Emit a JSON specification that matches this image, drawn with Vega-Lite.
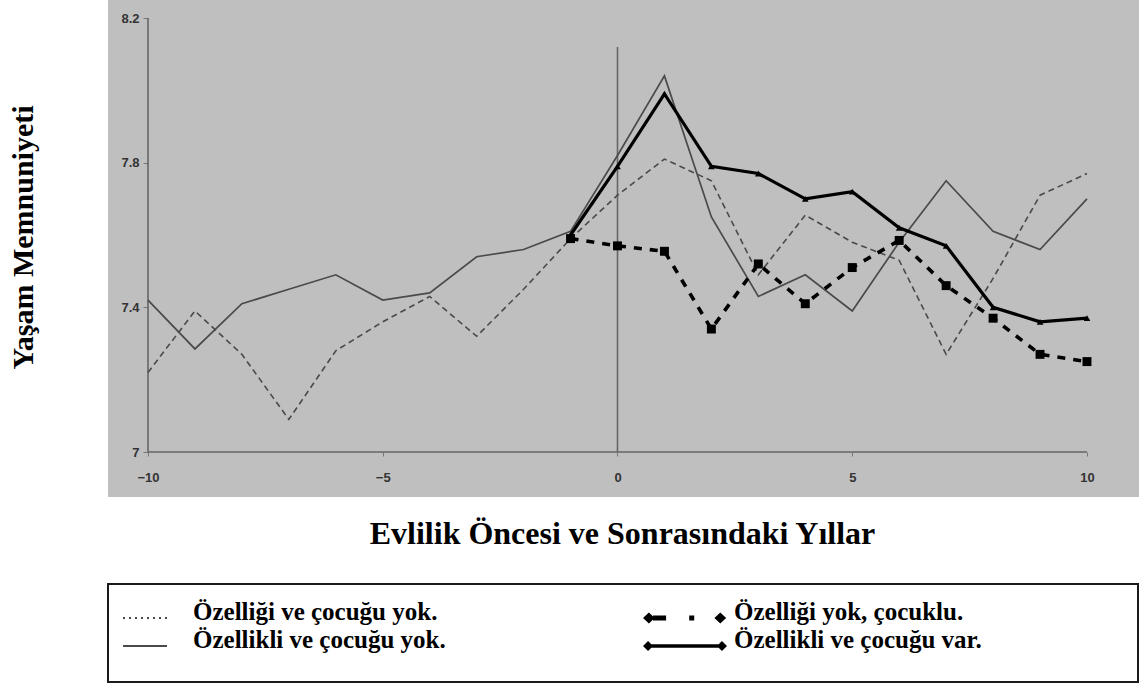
{
  "$schema": "https://vega.github.io/schema/vega-lite/v6.json",
  "background": "white",
  "padding": {"left": 8, "top": 0, "right": 0, "bottom": 0},
  "datasets": {
    "satisfaction": [
      {"s": "Özelliği ve çocuğu yok.", "x": -10, "y": 7.22},
      {"s": "Özelliği ve çocuğu yok.", "x": -9, "y": 7.39},
      {"s": "Özelliği ve çocuğu yok.", "x": -8, "y": 7.27},
      {"s": "Özelliği ve çocuğu yok.", "x": -7, "y": 7.09},
      {"s": "Özelliği ve çocuğu yok.", "x": -6, "y": 7.28},
      {"s": "Özelliği ve çocuğu yok.", "x": -5, "y": 7.36},
      {"s": "Özelliği ve çocuğu yok.", "x": -4, "y": 7.43},
      {"s": "Özelliği ve çocuğu yok.", "x": -3, "y": 7.32},
      {"s": "Özelliği ve çocuğu yok.", "x": -2, "y": 7.45},
      {"s": "Özelliği ve çocuğu yok.", "x": -1, "y": 7.59},
      {"s": "Özelliği ve çocuğu yok.", "x": 0, "y": 7.71},
      {"s": "Özelliği ve çocuğu yok.", "x": 1, "y": 7.81},
      {"s": "Özelliği ve çocuğu yok.", "x": 2, "y": 7.75},
      {"s": "Özelliği ve çocuğu yok.", "x": 3, "y": 7.49},
      {"s": "Özelliği ve çocuğu yok.", "x": 4, "y": 7.655},
      {"s": "Özelliği ve çocuğu yok.", "x": 5, "y": 7.58},
      {"s": "Özelliği ve çocuğu yok.", "x": 6, "y": 7.53},
      {"s": "Özelliği ve çocuğu yok.", "x": 7, "y": 7.27},
      {"s": "Özelliği ve çocuğu yok.", "x": 8, "y": 7.48},
      {"s": "Özelliği ve çocuğu yok.", "x": 9, "y": 7.71},
      {"s": "Özelliği ve çocuğu yok.", "x": 10, "y": 7.77},

      {"s": "Özellikli ve çocuğu yok.", "x": -10, "y": 7.42},
      {"s": "Özellikli ve çocuğu yok.", "x": -9, "y": 7.285},
      {"s": "Özellikli ve çocuğu yok.", "x": -8, "y": 7.41},
      {"s": "Özellikli ve çocuğu yok.", "x": -7, "y": 7.45},
      {"s": "Özellikli ve çocuğu yok.", "x": -6, "y": 7.49},
      {"s": "Özellikli ve çocuğu yok.", "x": -5, "y": 7.42},
      {"s": "Özellikli ve çocuğu yok.", "x": -4, "y": 7.44},
      {"s": "Özellikli ve çocuğu yok.", "x": -3, "y": 7.54},
      {"s": "Özellikli ve çocuğu yok.", "x": -2, "y": 7.56},
      {"s": "Özellikli ve çocuğu yok.", "x": -1, "y": 7.61},
      {"s": "Özellikli ve çocuğu yok.", "x": 0, "y": 7.82},
      {"s": "Özellikli ve çocuğu yok.", "x": 1, "y": 8.04},
      {"s": "Özellikli ve çocuğu yok.", "x": 2, "y": 7.65},
      {"s": "Özellikli ve çocuğu yok.", "x": 3, "y": 7.43},
      {"s": "Özellikli ve çocuğu yok.", "x": 4, "y": 7.49},
      {"s": "Özellikli ve çocuğu yok.", "x": 5, "y": 7.39},
      {"s": "Özellikli ve çocuğu yok.", "x": 6, "y": 7.58},
      {"s": "Özellikli ve çocuğu yok.", "x": 7, "y": 7.75},
      {"s": "Özellikli ve çocuğu yok.", "x": 8, "y": 7.61},
      {"s": "Özellikli ve çocuğu yok.", "x": 9, "y": 7.56},
      {"s": "Özellikli ve çocuğu yok.", "x": 10, "y": 7.7},

      {"s": "Özelliği yok, çocuklu.", "x": -1, "y": 7.59},
      {"s": "Özelliği yok, çocuklu.", "x": 0, "y": 7.57},
      {"s": "Özelliği yok, çocuklu.", "x": 1, "y": 7.555},
      {"s": "Özelliği yok, çocuklu.", "x": 2, "y": 7.34},
      {"s": "Özelliği yok, çocuklu.", "x": 3, "y": 7.52},
      {"s": "Özelliği yok, çocuklu.", "x": 4, "y": 7.41},
      {"s": "Özelliği yok, çocuklu.", "x": 5, "y": 7.51},
      {"s": "Özelliği yok, çocuklu.", "x": 6, "y": 7.585},
      {"s": "Özelliği yok, çocuklu.", "x": 7, "y": 7.46},
      {"s": "Özelliği yok, çocuklu.", "x": 8, "y": 7.37},
      {"s": "Özelliği yok, çocuklu.", "x": 9, "y": 7.27},
      {"s": "Özelliği yok, çocuklu.", "x": 10, "y": 7.25},

      {"s": "Özellikli ve çocuğu var.", "x": -1, "y": 7.6},
      {"s": "Özellikli ve çocuğu var.", "x": 0, "y": 7.79},
      {"s": "Özellikli ve çocuğu var.", "x": 1, "y": 7.99},
      {"s": "Özellikli ve çocuğu var.", "x": 2, "y": 7.79},
      {"s": "Özellikli ve çocuğu var.", "x": 3, "y": 7.77},
      {"s": "Özellikli ve çocuğu var.", "x": 4, "y": 7.7},
      {"s": "Özellikli ve çocuğu var.", "x": 5, "y": 7.72},
      {"s": "Özellikli ve çocuğu var.", "x": 6, "y": 7.62},
      {"s": "Özellikli ve çocuğu var.", "x": 7, "y": 7.57},
      {"s": "Özellikli ve çocuğu var.", "x": 8, "y": 7.4},
      {"s": "Özellikli ve çocuğu var.", "x": 9, "y": 7.36},
      {"s": "Özellikli ve çocuğu var.", "x": 10, "y": 7.37}
    ],
    "guides": [
      {"x": -10, "x2": -10, "y": 7, "y2": 8.2},
      {"x": 0, "x2": 0, "y": 7, "y2": 8.12},
      {"x": -10, "x2": 10, "y": 7, "y2": 7}
    ]
  },
  "bounds": "flush",
  "spacing": 87,
  "vconcat": [
    {
      "width": 1031,
      "height": 497,
      "view": {"fill": "#bfbfbf", "stroke": null},
      "encoding": {
        "x": {
          "field": "x",
          "type": "quantitative",
          "scale": {"domain": [-10.852, 11.108], "nice": false, "zero": false},
          "axis": {
            "values": [-10, -5, 0, 5, 10],
            "format": "d",
            "offset": -45,
            "domain": false,
            "grid": false,
            "ticks": true,
            "tickSize": 4,
            "tickColor": "#777777",
            "labelFont": "Liberation Sans",
            "labelFontWeight": "bold",
            "labelFontSize": 13,
            "labelColor": "#333333",
            "labelPadding": 15,
            "labelFlush": false,
            "labelOverlap": false,
            "title": "Evlilik Öncesi ve Sonrasındaki Yıllar",
            "titleFont": "Liberation Serif",
            "titleFontSize": 32,
            "titleFontWeight": "bold",
            "titleColor": "#000000",
            "titleX": 514,
            "titleY": 91,
            "titleAlign": "center",
            "titleBaseline": "alphabetic"
          }
        },
        "y": {
          "field": "y",
          "type": "quantitative",
          "scale": {"domain": [6.8756, 8.2498], "nice": false, "zero": false},
          "axis": {
            "values": [7, 7.4, 7.8, 8.2],
            "format": "~g",
            "offset": -40,
            "domain": false,
            "grid": false,
            "tickSize": 5,
            "tickColor": "#777777",
            "labelFont": "Liberation Sans",
            "labelFontWeight": "bold",
            "labelFontSize": 13,
            "labelColor": "#333333",
            "labelPadding": 4,
            "labelFlush": false,
            "labelOverlap": false,
            "title": "Yaşam Memnuniyeti",
            "titleFont": "Liberation Serif",
            "titleFontSize": 30,
            "titleFontWeight": "bold",
            "titleColor": "#000000",
            "titleAngle": 270,
            "titleX": -116,
            "titleY": 237,
            "titleAlign": "center",
            "titleBaseline": "alphabetic"
          }
        },
        "color": {
          "field": "s",
          "type": "nominal",
          "scale": {
            "domain": ["Özelliği ve çocuğu yok.", "Özellikli ve çocuğu yok.", "Özelliği yok, çocuklu.", "Özellikli ve çocuğu var."],
            "range": ["#4a4a4a", "#4a4a4a", "#000000", "#000000"]
          },
          "legend": {
            "orient": "none",
            "legendX": 15,
            "legendY": 598,
            "title": null,
            "columns": 2,
            "columnPadding": 197,
            "rowPadding": 1,
            "padding": 0,
            "labelFont": "Liberation Serif",
            "labelFontSize": 25,
            "labelFontWeight": "bold",
            "labelColor": "#000000",
            "labelBaseline": "alphabetic",
            "labelLimit": 0,
            "symbolType": "stroke",
            "symbolSize": 1936,
            "encode": {
              "symbols": {
                "update": {
                  "shape": {"signal": "datum.value === 'Özelliği yok, çocuklu.' ? 'M-1,0L-0.86,-0.13L-0.72,0L-0.86,0.13Z M-0.76,-0.06H-0.45V0.06H-0.76Z M0.1,-0.06H0.22V0.06H0.1Z M0.7,0L0.84,-0.13L0.98,0L0.84,0.13Z' : (datum.value === 'Özellikli ve çocuğu var.' ? 'M-1,0L-0.88,-0.12L-0.76,0L-0.88,0.12Z M-0.8,-0.04H0.8V0.04H-0.8Z M0.76,0L0.88,-0.12L1,0L0.88,0.12Z' : 'stroke')"},
                  "size": {"signal": "(datum.value === 'Özelliği yok, çocuklu.' || datum.value === 'Özellikli ve çocuğu var.') ? 7056 : 1936"},
                  "fill": {"signal": "(datum.value === 'Özelliği yok, çocuklu.' || datum.value === 'Özellikli ve çocuğu var.') ? '#000000' : 'transparent'"},
                  "stroke": {"value": "#000000"},
                  "strokeWidth": {"signal": "(datum.value === 'Özelliği yok, çocuklu.' || datum.value === 'Özellikli ve çocuğu var.') ? 0 : 2.2"},
                  "strokeDash": {"signal": "datum.value === 'Özelliği ve çocuğu yok.' ? [2, 4] : []"},
                  "x": {"signal": "(datum.value === 'Özelliği yok, çocuklu.' || datum.value === 'Özellikli ve çocuğu var.') ? 42 : 22"},
                  "y": {"value": 20},
                  "opacity": {"value": 1}
                }
              },
              "labels": {
                "update": {
                  "x": {"signal": "(datum.value === 'Özelliği yok, çocuklu.' || datum.value === 'Özellikli ve çocuğu var.') ? 91 : 70"},
                  "y": {"value": 22}
                }
              }
            }
          }
        }
      },
      "layer": [
        {
          "data": {"name": "guides"},
          "mark": {"type": "rule", "strokeWidth": 1.6},
          "encoding": {
            "x2": {"field": "x2"},
            "y2": {"field": "y2"},
            "color": {"value": "#666666"}
          }
        },
        {
          "data": {"name": "satisfaction"},
          "transform": [{"filter": "datum.s === 'Özelliği ve çocuğu yok.'"}],
          "mark": {"type": "line", "strokeWidth": 1.6, "strokeDash": [6, 4]}
        },
        {
          "data": {"name": "satisfaction"},
          "transform": [{"filter": "datum.s === 'Özellikli ve çocuğu yok.'"}],
          "mark": {"type": "line", "strokeWidth": 1.7}
        },
        {
          "data": {"name": "satisfaction"},
          "transform": [{"filter": "datum.s === 'Özelliği yok, çocuklu.'"}],
          "mark": {"type": "line", "strokeWidth": 3.6, "strokeDash": [8, 8]}
        },
        {
          "data": {"name": "satisfaction"},
          "transform": [{"filter": "datum.s === 'Özellikli ve çocuğu var.'"}],
          "mark": {"type": "line", "strokeWidth": 3.2}
        },
        {
          "data": {"name": "satisfaction"},
          "transform": [{"filter": "datum.s === 'Özelliği yok, çocuklu.'"}],
          "mark": {"type": "point", "shape": "square", "filled": true, "size": 80, "opacity": 1}
        },
        {
          "data": {"name": "satisfaction"},
          "transform": [{"filter": "datum.s === 'Özellikli ve çocuğu var.'"}],
          "mark": {"type": "point", "shape": "triangle-up", "filled": true, "size": 45, "opacity": 1}
        }
      ]
    },
    {
      "width": 1030,
      "height": 98,
      "view": {"stroke": "#1a1a1a", "strokeWidth": 2, "fill": null},
      "data": {"values": [{}]},
      "mark": {"type": "text", "text": ""}
    }
  ]
}
